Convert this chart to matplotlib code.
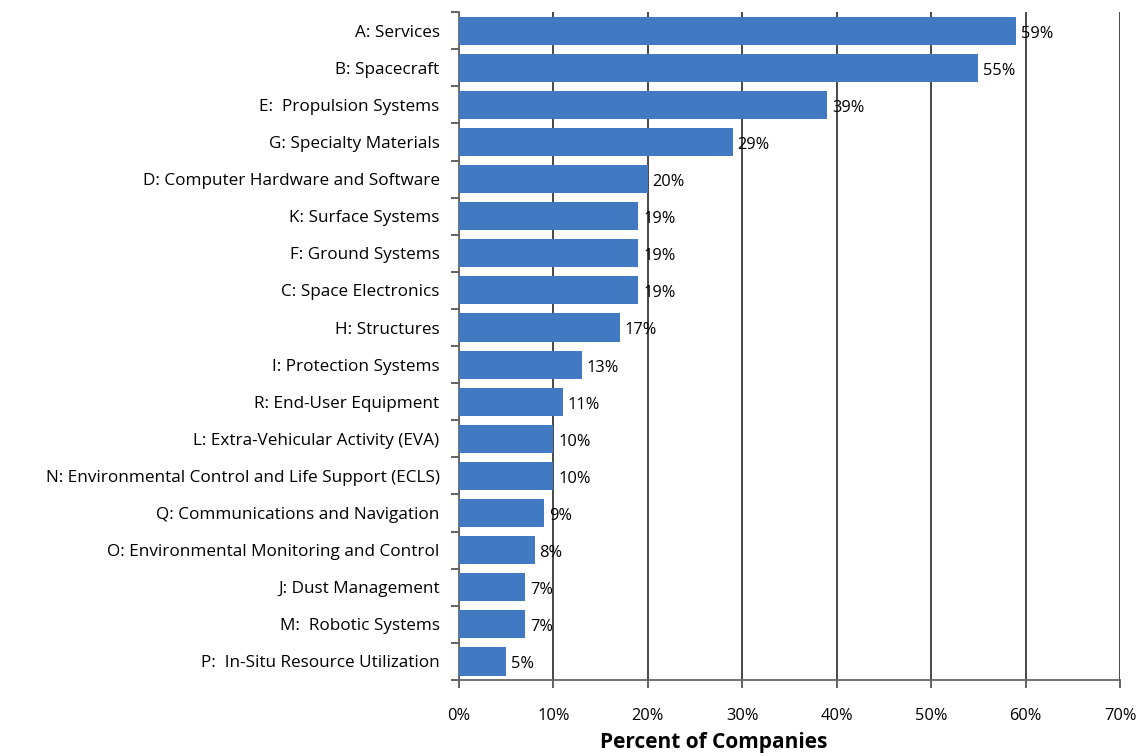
import matplotlib
matplotlib.use('Agg')
import matplotlib.pyplot as plt
from matplotlib.ticker import MultipleLocator, PercentFormatter

plt.rcParams['font.family'] = ['Open Sans', 'DejaVu Sans']

# Categories, top to bottom
categories = [
    "A: Services",
    "B: Spacecraft",
    "E:  Propulsion Systems",
    "G: Specialty Materials",
    "D: Computer Hardware and Software",
    "K: Surface Systems",
    "F: Ground Systems",
    "C: Space Electronics",
    "H: Structures",
    "I: Protection Systems",
    "R: End-User Equipment",
    "L: Extra-Vehicular Activity (EVA)",
    "N: Environmental Control and Life Support (ECLS)",
    "Q: Communications and Navigation",
    "O: Environmental Monitoring and Control",
    "J: Dust Management",
    "M:  Robotic Systems",
    "P:  In-Situ Resource Utilization",
]
percents = [59, 55, 39, 29, 20, 19, 19, 19, 17, 13, 11, 10, 10, 9, 8, 7, 7, 5]

fig = plt.figure(figsize=(11.43, 7.56), dpi=100)
ax = fig.add_axes([0.4016, 0.1005, 0.5783, 0.8835])

# reverse so first category sits on top
ypos = list(range(len(categories)))[::-1]
ax.barh(ypos, percents, height=0.76, color='#4179c2', zorder=3)

for y, p in zip(ypos, percents):
    ax.text(p + 0.5, y - 0.08, f"{p}%", va='center', ha='left', fontsize=11.8, zorder=4)

ax.set_xlim(0, 70)
ax.set_ylim(-0.5, len(categories) - 0.5)
ax.xaxis.set_major_locator(MultipleLocator(10))
ax.xaxis.set_major_formatter(PercentFormatter(decimals=0))
ax.grid(axis='x', color='#3a3a3a', linewidth=1.3, zorder=0)

ax.set_yticks(ypos)
ax.set_yticklabels(categories, fontsize=12.3)
ax.tick_params(axis='y', length=0, pad=14)
# small ticks at category boundaries
ax.set_yticks([i - 0.5 for i in range(len(categories) + 1)], minor=True)
ax.tick_params(axis='y', which='minor', length=6, width=1.3, color='#555555')
ax.tick_params(axis='x', length=6, width=1.3, color='#555555', pad=14, labelsize=11.8)

for side in ['top', 'right']:
    ax.spines[side].set_visible(False)
for side in ['left', 'bottom']:
    ax.spines[side].set_color('#666666')
    ax.spines[side].set_linewidth(1.3)

ax.set_xlabel("Percent of Companies", fontsize=15, fontweight='bold')
ax.xaxis.set_label_coords(0.386, -0.078)

fig.savefig('out.png', dpi=100)
